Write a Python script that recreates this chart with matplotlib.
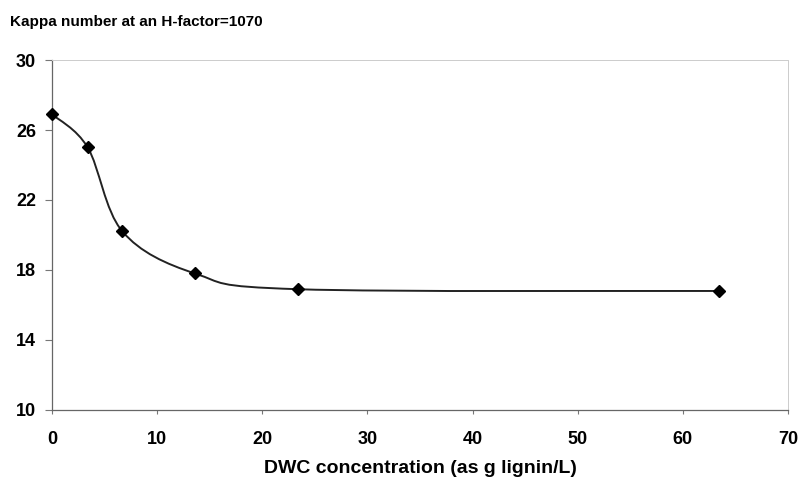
import numpy as np
import matplotlib
matplotlib.use("Agg")
import matplotlib.pyplot as plt
from matplotlib.path import Path
from matplotlib.patches import PathPatch

plt.rcParams['font.family'] = ['Liberation Sans', 'DejaVu Sans']

# data
dwc = [0.0, 3.4, 6.7, 13.6, 23.4, 63.4]
kappa = [26.9, 25.0, 20.2, 17.8, 16.9, 16.8]

xticks = [0, 10, 20, 30, 40, 50, 60, 70]
yticks = [10, 14, 18, 22, 26, 30]


def smooth_path(x, y):
    # Excel-style smoothed line: Catmull-Rom segments as cubic Bezier curves
    p = np.column_stack([x, y]).astype(float)
    ext = np.vstack([p[0], p, p[-1]])
    verts = [p[0]]
    codes = [Path.MOVETO]
    for i in range(1, len(ext) - 2):
        p0, p1, p2, p3 = ext[i - 1], ext[i], ext[i + 1], ext[i + 2]
        c1 = p1 + (p2 - p0) / 6.0
        c2 = p2 - (p3 - p1) / 6.0
        verts += [c1, c2, p2]
        codes += [Path.CURVE4] * 3
    return Path(verts, codes)


fig = plt.figure(figsize=(8, 4.84), dpi=100, facecolor='white')
ax = fig.add_axes([0.065, 0.153, 0.920, 0.723])

ax.add_patch(PathPatch(smooth_path(dwc, kappa), facecolor='none',
                       edgecolor='#222222', linewidth=1.4, zorder=3))
ax.plot(dwc, kappa, linestyle='none', marker='D', markersize=6.5,
        color='black', zorder=4, clip_on=False)

ax.set_xlim(0, 70)
ax.set_ylim(10, 30)
ax.set_xticks(xticks)
ax.set_yticks(yticks)
ax.set_xticklabels([str(v) for v in xticks], fontsize=13, fontweight='bold')
ax.set_yticklabels([str(v) for v in yticks], fontsize=13, fontweight='bold')
ax.tick_params(axis='both', direction='out', width=0.8, color='#777777')
ax.tick_params(axis='x', length=3, pad=12)
ax.tick_params(axis='y', length=5, pad=6.5)

for side in ['left', 'bottom']:
    ax.spines[side].set_color('#666666')
    ax.spines[side].set_linewidth(0.9)
for side in ['top', 'right']:
    ax.spines[side].set_color('#cccccc')
    ax.spines[side].set_linewidth(0.7)
    ax.spines[side].set_linestyle((0, (1, 1)))

ax.set_xlabel('DWC concentration (as g lignin/L)', fontsize=14,
              fontweight='bold', labelpad=9)
fig.text(0.012, 0.955, 'Kappa number at an H-factor=1070', fontsize=11,
         fontweight='bold', va='center', ha='left')

fig.savefig('out.png', dpi=100, facecolor='white')
